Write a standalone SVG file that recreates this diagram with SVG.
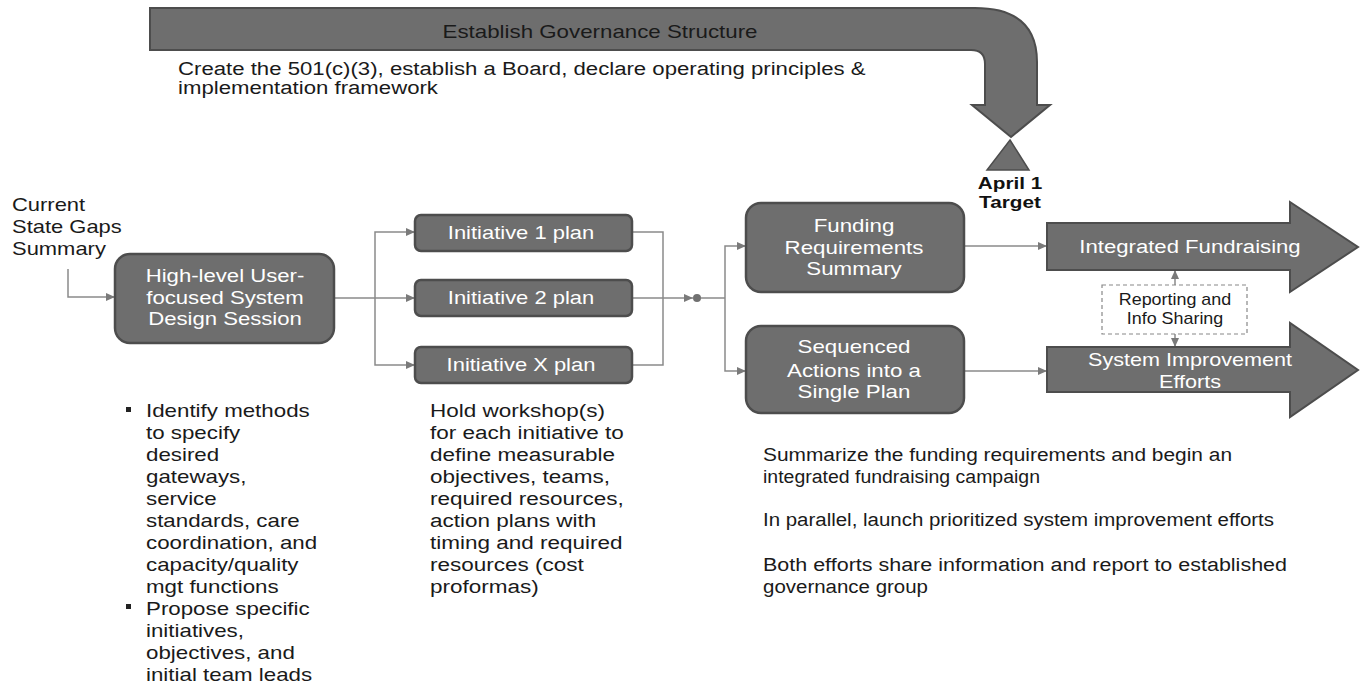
<svg xmlns="http://www.w3.org/2000/svg" width="1364" height="688" viewBox="0 0 1364 688">
<style>
.t{font-family:"Liberation Sans",Arial,sans-serif;font-size:18px;fill:#1a1a1a}
.w{font-family:"Liberation Sans",Arial,sans-serif;font-size:18px;fill:#ffffff;text-anchor:middle}
.b{font-family:"Liberation Sans",Arial,sans-serif;font-size:17px;font-weight:bold;fill:#111;text-anchor:middle}
.s{font-family:"Liberation Sans",Arial,sans-serif;font-size:16px;fill:#1a1a1a;text-anchor:middle}
.box{fill:#6e6e6e;stroke:#4d4d4d;stroke-width:2.5}
.big{fill:#6e6e6e;stroke:#4d4d4d;stroke-width:2}
.c{fill:none;stroke:#8a8a8a;stroke-width:1.5}
</style>
<defs>
<marker id="ah" markerWidth="9" markerHeight="8" refX="9" refY="4" orient="auto" markerUnits="userSpaceOnUse">
<path d="M0,0 L9,4 L0,8 Z" fill="#7a7a7a"/>
</marker>
</defs>

<g id="governance">
<path class="big" d="M150,8 L975,8 Q1037,8 1037,62 L1037,105 L1050,105 L1011,137 L972,105 L985,105 L985,64 Q985,50 971,50 L150,50 Z"/>
<g transform="matrix(1.24,0,0,1,600,0)"><text class="s" x="0" y="38" style="font-size:18px">Establish Governance Structure</text></g>
<g transform="matrix(1.232,0,0,1,178,0)">
<text class="t" x="0" y="75">Create the 501(c)(3), establish a Board, declare operating principles &amp;</text>
<text class="t" x="0" y="94">implementation framework</text>
</g>
</g>

<g id="target">
<path d="M1010,140 L1029,170 L987,170 Z" fill="#6e6e6e" stroke="#4d4d4d" stroke-width="1.5"/>
<g transform="matrix(1.22,0,0,1,1010,0)">
<text class="b" x="0" y="189">April 1</text>
<text class="b" x="0" y="208">Target</text>
</g>
</g>

<g id="current-state">
<g transform="matrix(1.22,0,0,1,12,0)">
<text class="t" x="0" y="211">Current</text>
<text class="t" x="0" y="233">State Gaps</text>
<text class="t" x="0" y="255">Summary</text>
</g>
</g>

<g id="connectors">
<path class="c" d="M68,269 V297 H115" marker-end="url(#ah)"/>
<path class="c" d="M334,298 H415" marker-end="url(#ah)"/>
<path class="c" d="M375,298 V232 H415" marker-end="url(#ah)"/>
<path class="c" d="M375,298 V365 H415" marker-end="url(#ah)"/>
<path class="c" d="M632,232 H663 V365 H632"/>
<path class="c" d="M632,298 H693" marker-end="url(#ah)"/>
<circle cx="697" cy="298" r="4" fill="#707070"/>
<path class="c" d="M701,298 H725"/>
<path class="c" d="M725,298 V246 H746" marker-end="url(#ah)"/>
<path class="c" d="M725,298 V371 H746" marker-end="url(#ah)"/>
<path class="c" d="M964,246 H1047" marker-end="url(#ah)"/>
<path class="c" d="M964,371 H1047" marker-end="url(#ah)"/>
<path class="c" d="M1175,285 V270" marker-end="url(#ah)"/>
<path class="c" d="M1175,334 V347" marker-end="url(#ah)"/>
</g>

<g id="design-session">
<rect class="box" x="115" y="254" width="219" height="89" rx="15"/>
<g transform="matrix(1.23,0,0,1,225,0)">
<text class="w" x="0" y="282">High-level User-</text>
<text class="w" x="0" y="304">focused System</text>
<text class="w" x="0" y="325">Design Session</text>
</g>
</g>

<g id="initiative-1">
<rect class="box" x="415" y="215" width="217" height="36" rx="6"/>
<g transform="matrix(1.22,0,0,1,521,0)"><text class="w" x="0" y="239">Initiative  1 plan</text></g>
</g>
<g id="initiative-2">
<rect class="box" x="415" y="280" width="217" height="36" rx="6"/>
<g transform="matrix(1.22,0,0,1,521,0)"><text class="w" x="0" y="304">Initiative  2 plan</text></g>
</g>
<g id="initiative-x">
<rect class="box" x="415" y="347" width="217" height="36" rx="6"/>
<g transform="matrix(1.22,0,0,1,521,0)"><text class="w" x="0" y="371">Initiative  X plan</text></g>
</g>

<g id="funding">
<rect class="box" x="746" y="203" width="218" height="89" rx="15"/>
<g transform="matrix(1.24,0,0,1,854,0)">
<text class="w" x="0" y="232">Funding</text>
<text class="w" x="0" y="254">Requirements</text>
<text class="w" x="0" y="275">Summary</text>
</g>
</g>

<g id="sequenced">
<rect class="box" x="746" y="326" width="218" height="87" rx="15"/>
<g transform="matrix(1.24,0,0,1,854,0)">
<text class="w" x="0" y="353">Sequenced</text>
<text class="w" x="0" y="377">Actions into a</text>
<text class="w" x="0" y="398">Single Plan</text>
</g>
</g>

<g id="integrated-fundraising">
<path class="big" d="M1047,223 L1290,223 L1290,202 L1358,247 L1290,292 L1290,270 L1047,270 Z"/>
<g transform="matrix(1.23,0,0,1,1190,0)"><text class="w" x="0" y="253">Integrated  Fundraising</text></g>
</g>

<g id="system-improvement">
<path class="big" d="M1047,347 L1290,347 L1290,323 L1358,370 L1290,417 L1290,392 L1047,392 Z"/>
<g transform="matrix(1.2,0,0,1,1190,0)">
<text class="w" x="0" y="366">System Improvement</text>
<text class="w" x="0" y="388">Efforts</text>
</g>
</g>

<g id="reporting">
<rect x="1102" y="285" width="145" height="49" fill="#ffffff" stroke="#888" stroke-width="1.2" stroke-dasharray="4,3"/>
<g transform="matrix(1.12,0,0,1,1175,0)">
<text class="s" x="0" y="305">Reporting and</text>
<text class="s" x="0" y="324">Info Sharing</text>
</g>
</g>

<g id="design-notes">
<rect x="126" y="407" width="5" height="5" fill="#222"/>
<rect x="126" y="604" width="5" height="5" fill="#222"/>
<g transform="matrix(1.24,0,0,1,146,0)">
<text class="t" x="0" y="417">Identify  methods</text>
<text class="t" x="0" y="439">to specify</text>
<text class="t" x="0" y="461">desired</text>
<text class="t" x="0" y="483">gateways,</text>
<text class="t" x="0" y="505">service</text>
<text class="t" x="0" y="527">standards, care</text>
<text class="t" x="0" y="549">coordination,  and</text>
<text class="t" x="0" y="571">capacity/quality</text>
<text class="t" x="0" y="593">mgt functions</text>
<text class="t" x="0" y="615">Propose specific</text>
<text class="t" x="0" y="637">initiatives,</text>
<text class="t" x="0" y="659">objectives, and</text>
<text class="t" x="0" y="681">initial  team leads</text>
</g>
</g>

<g id="workshop-notes">
<g transform="matrix(1.25,0,0,1,430,0)">
<text class="t" x="0" y="417">Hold workshop(s)</text>
<text class="t" x="0" y="439">for each initiative to</text>
<text class="t" x="0" y="461">define measurable</text>
<text class="t" x="0" y="483">objectives, teams,</text>
<text class="t" x="0" y="505">required resources,</text>
<text class="t" x="0" y="527">action plans with</text>
<text class="t" x="0" y="549">timing and required</text>
<text class="t" x="0" y="571">resources (cost</text>
<text class="t" x="0" y="593">proformas)</text>
</g>
</g>

<g id="summary-notes">
<text class="t" x="763" y="461" textLength="469" lengthAdjust="spacingAndGlyphs">Summarize the funding requirements and begin an</text>
<text class="t" x="763" y="483" textLength="277" lengthAdjust="spacingAndGlyphs">integrated fundraising campaign</text>
<text class="t" x="763" y="526" textLength="511" lengthAdjust="spacingAndGlyphs">In parallel, launch prioritized system improvement efforts</text>
<text class="t" x="763" y="571" textLength="524" lengthAdjust="spacingAndGlyphs">Both efforts share information and report to established</text>
<text class="t" x="763" y="593" textLength="165" lengthAdjust="spacingAndGlyphs">governance group</text>
</g>
</svg>
